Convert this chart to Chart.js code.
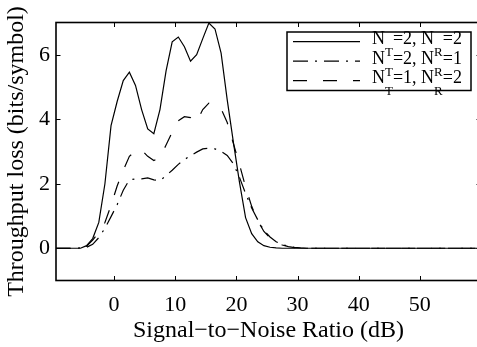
<!DOCTYPE html>
<html>
<head>
<meta charset="utf-8">
<script src="https://cdn.jsdelivr.net/npm/chart.js@4"></script>
<style>
  html, body { margin: 0; padding: 0; background: #fff; overflow: hidden; }
  canvas { display: block; }
</style>
</head>
<body>
<canvas id="c" width="490" height="347"></canvas>
<script>
// SNR grid (dB)
const snr = [
  -9.5, -8.5, -7.5, -6.5, -5.5, -4.5, -3.5, -2.5, -1.5, -0.5,
  0.5, 1.5, 2.5, 3.5, 4.5, 5.5, 6.5, 7.5, 8.5, 9.5,
  10.5, 11.5, 12.5, 13.5, 14.5, 15.5, 16.5, 17.5, 18.5, 19.5,
  20.5, 21.5, 22.5, 23.5, 24.5, 25.5, 26.5, 27.5, 28.5, 29.5,
  30.5, 31.5, 32.5, 33.5, 34.5, 35.5, 36.5, 37.5, 38.5, 39.5,
  40.5, 41.5, 42.5, 43.5, 44.5, 45.5, 46.5, 47.5, 48.5, 49.5,
  50.5, 51.5, 52.5, 53.5, 54.5, 55.5, 56.5, 57.5, 58.5, 59.5
];

// Throughput loss (bits/symbol), NT=2, NR=2
const lossT2R2 = [
  0, 0, 0, 0, 0, 0.08, 0.3, 0.8, 2.0, 3.8,
  4.55, 5.2, 5.46, 5.05, 4.3, 3.7, 3.55, 4.3, 5.5, 6.4,
  6.55, 6.25, 5.8, 6.0, 6.5, 6.98, 6.8, 6.05, 4.6, 3.3,
  2.05, 0.95, 0.45, 0.2, 0.08, 0.03, 0.01, 0, 0, 0,
  0, 0, 0, 0, 0, 0, 0, 0, 0, 0,
  0, 0, 0, 0, 0, 0, 0, 0, 0, 0,
  0, 0, 0, 0, 0, 0, 0, 0, 0, 0
];

// NT=2, NR=1
const lossT2R1 = [
  0, 0, 0, 0, 0.01, 0.03, 0.12, 0.33, 0.62, 0.98,
  1.35, 1.8, 2.12, 2.15, 2.15, 2.18, 2.12, 2.1, 2.25, 2.42,
  2.6, 2.75, 2.87, 2.98, 3.08, 3.1, 3.08, 3.0, 2.88, 2.62,
  2.2, 1.7, 1.25, 0.88, 0.55, 0.35, 0.2, 0.12, 0.06, 0.03,
  0.01, 0, 0, 0, 0, 0, 0, 0, 0, 0,
  0, 0, 0, 0, 0, 0, 0, 0, 0, 0,
  0, 0, 0, 0, 0, 0, 0, 0, 0, 0
];

// NT=1, NR=2
const lossT1R2 = [
  0, 0, 0, 0, 0.01, 0.06, 0.25, 0.5, 0.8, 1.33,
  1.93, 2.42, 2.85, 3.02, 3.05, 2.85, 2.72, 2.82, 3.2, 3.6,
  3.95, 4.08, 4.05, 3.92, 4.3, 4.5, 4.45, 4.32, 3.9, 3.25,
  2.6, 1.9, 1.3, 0.85, 0.52, 0.32, 0.18, 0.1, 0.05, 0.02,
  0.01, 0, 0, 0, 0, 0, 0, 0, 0, 0,
  0, 0, 0, 0, 0, 0, 0, 0, 0, 0,
  0, 0, 0, 0, 0, 0, 0, 0, 0, 0
];

const xTicks = [0, 10, 20, 30, 40, 50];
const yTicks = [0, 2, 4, 6];

// legend entries: [NT, NR]
const antennaPairs = [[2, 2], [2, 1], [1, 2]];

const SERIF = '"Liberation Serif", "Times New Roman", serif';
const dashDot = [15, 7, 2, 7];
const dashed = [14, 16];
const styles = [[], dashDot, dashed];
const seriesValues = [lossT2R2, lossT2R1, lossT1R2];

const toPoints = vals => snr.map((s, i) => ({ x: s, y: vals[i] }));

// axes box with inward ticks, plus the boxed legend
const framePlugin = {
  id: 'frame',
  afterDatasetsDraw(chart) {
    const { ctx, chartArea: a, scales: { x, y } } = chart;
    ctx.save();
    ctx.strokeStyle = '#000';
    ctx.lineWidth = 1;
    ctx.setLineDash([]);
    const tl = 4.5;
    ctx.beginPath();
    xTicks.forEach(v => {
      const px = Math.round(x.getPixelForValue(v)) + 0.5;
      ctx.moveTo(px, a.bottom); ctx.lineTo(px, a.bottom - tl);
      ctx.moveTo(px, a.top); ctx.lineTo(px, a.top + tl);
    });
    yTicks.forEach(v => {
      const py = Math.round(y.getPixelForValue(v)) + 0.5;
      ctx.moveTo(a.left, py); ctx.lineTo(a.left + tl, py);
      ctx.moveTo(a.right, py); ctx.lineTo(a.right - tl, py);
    });
    ctx.stroke();
    ctx.lineWidth = 1.6;
    ctx.strokeRect(a.left, a.top, a.right - a.left, a.bottom - a.top);

    // legend
    const bx = a.right - 194, by = a.top + 9.5, bw = 184, bh = 58.5;
    ctx.fillStyle = '#fff';
    ctx.fillRect(bx, by, bw, bh);
    ctx.lineWidth = 1.5;
    ctx.strokeRect(bx, by, bw, bh);
    ctx.fillStyle = '#000';
    ctx.textBaseline = 'alphabetic';
    ctx.textAlign = 'left';
    const mainFont = '18px ' + SERIF, subFont = '13px ' + SERIF;
    antennaPairs.forEach(([nt, nr], i) => {
      const ly = by + 9.7 + 19.5 * i;
      ctx.lineWidth = 1.2;
      ctx.setLineDash(styles[i]);
      ctx.beginPath();
      ctx.moveTo(bx + 6, ly); ctx.lineTo(bx + 73, ly);
      ctx.stroke();
      ctx.setLineDash([]);
      const base = by + 12.3 + 19.5 * i;
      let tx = bx + 85;
      const parts = [['N', 0], ['T', 1], ['=' + nt + ', N', 0], ['R', 1], ['=' + nr, 0]];
      parts.forEach(([t, sub]) => {
        ctx.font = sub ? subFont : mainFont;
        ctx.fillText(t, tx, base + (sub ? 12 : 0));
        tx += ctx.measureText(t).width;
      });
    });
    ctx.restore();
  }
};

new Chart(document.getElementById('c'), {
  type: 'line',
  data: {
    datasets: seriesValues.map((vals, i) => ({
      label: 'N_T=' + antennaPairs[i][0] + ', N_R=' + antennaPairs[i][1],
      data: toPoints(vals),
      borderColor: '#000',
      borderWidth: 1.2,
      borderDash: styles[i],
      pointRadius: 0,
      tension: 0,
      fill: false
    }))
  },
  options: {
    responsive: false,
    animation: false,
    devicePixelRatio: 1,
    layout: { padding: { top: 22.5, right: 9, left: 0, bottom: 0 } },
    plugins: { legend: { display: false }, tooltip: { enabled: false } },
    scales: {
      x: {
        type: 'linear',
        min: -9.5,
        max: 60,
        afterBuildTicks: s => { s.ticks = xTicks.map(v => ({ value: v })); },
        afterFit: s => { s.height = 66.5; },
        grid: { display: false, drawTicks: false },
        border: { display: false },
        ticks: { color: '#000', padding: 12, font: { family: SERIF, size: 22 } },
        title: { display: true, text: 'Signal\u2212to\u2212Noise Ratio (dB)', color: '#000',
                 font: { family: SERIF, size: 24 }, padding: { top: 0, bottom: 2 } }
      },
      y: {
        min: -1,
        max: 7,
        afterBuildTicks: s => { s.ticks = yTicks.map(v => ({ value: v })); },
        afterFit: s => { s.width = 56; },
        grid: { display: false, drawTicks: false },
        border: { display: false },
        ticks: { color: '#000', padding: 6, font: { family: SERIF, size: 22 } },
        title: { display: true, text: 'Throughput loss (bits/symbol)', color: '#000',
                 font: { family: SERIF, size: 24 }, padding: { top: 2, bottom: 0 } }
      }
    }
  },
  plugins: [framePlugin]
});
</script>
</body>
</html>
